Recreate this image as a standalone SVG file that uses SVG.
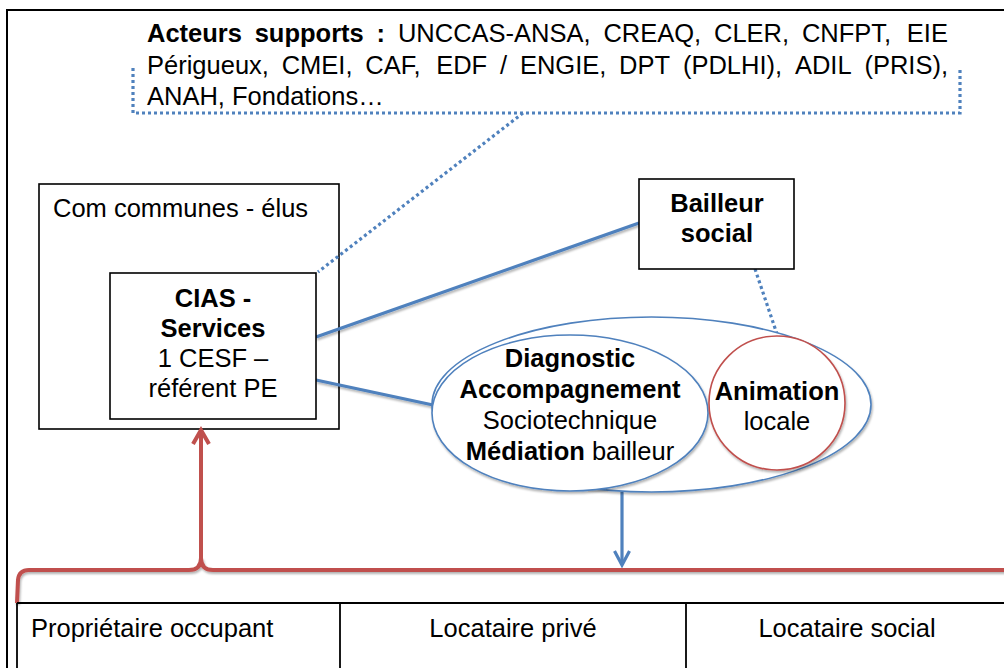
<svg xmlns="http://www.w3.org/2000/svg" width="1004" height="668" viewBox="0 0 1004 668">
<style>
  text { font-family: "Liberation Sans", Arial, sans-serif; font-size: 25.5px; fill: #000; }
  .b { font-weight: bold; }
  .mid { text-anchor: middle; }
  .box { fill: #fff; stroke: #000; stroke-width: 1.6; }
  .frame { fill: none; stroke: #000; stroke-width: 1.6; }
  .blue { fill: none; stroke: #4f81bd; stroke-width: 3.2; }
  .dot { fill: none; stroke: #4f81bd; stroke-width: 3.2; stroke-dasharray: 3 3; }
  .red { fill: none; stroke: #c0504d; stroke-width: 4; }
  .ell { fill: #fff; stroke: #4f81bd; stroke-width: 1.6; }
  .ellr { fill: #fff; stroke: #c0504d; stroke-width: 1.6; }
  .tbl { fill: none; stroke: #000; stroke-width: 1.8; }
</style>
<defs>
  <filter id="sh" x="-10%" y="-10%" width="130%" height="140%">
    <feDropShadow dx="1" dy="2" stdDeviation="1.2" flood-color="#000" flood-opacity="0.3"/>
  </filter>
  <marker id="arrR" markerUnits="userSpaceOnUse" markerWidth="24" markerHeight="24" refX="16" refY="12" orient="auto">
    <path d="M2,4 L16,12 L2,20" fill="none" stroke="#c0504d" stroke-width="4"/>
  </marker>
  <marker id="arrB" markerUnits="userSpaceOnUse" markerWidth="24" markerHeight="24" refX="16" refY="12" orient="auto">
    <path d="M2,4.5 L16,12 L2,19.5" fill="none" stroke="#4f81bd" stroke-width="3.2"/>
  </marker>
</defs>
<rect width="1004" height="668" fill="#fff"/>

<!-- outer frame -->
<rect x="7" y="10" width="1020" height="700" fill="none" stroke="#000" stroke-width="2"/>

<!-- com communes -->
<g id="comcom">
  <rect class="frame" x="39" y="184" width="300" height="245"/>
  <text x="53" y="217">Com communes - élus</text>
</g>

<!-- connectors -->
<g id="connectors">
  <polyline class="dot" points="133,68 133,113 960,113 960,67"/>
  <line class="dot" x1="523" y1="113" x2="318" y2="272"/>
  <line class="blue" x1="316" y1="337" x2="639" y2="223" filter="url(#sh)"/>
  <line class="blue" x1="316" y1="380" x2="433" y2="405" filter="url(#sh)"/>
  <line class="dot" x1="755" y1="269" x2="777" y2="334"/>
  <line class="blue" x1="622" y1="492" x2="622" y2="565" marker-end="url(#arrB)"/>
  <path class="red" d="M17,603 L18,580 Q19,570 29,570 L189,570 Q201,570 201,558 Q201,570 213,570 L1010,570" filter="url(#sh)"/>
  <line class="red" x1="201" y1="560" x2="201" y2="430" marker-end="url(#arrR)"/>
</g>

<!-- acteurs supports -->
<g id="acteurs">
  <text y="42"><tspan class="b" x="147">Acteurs</tspan><tspan class="b" x="254.7">supports</tspan><tspan class="b" x="376.6">:</tspan><tspan x="397.9">UNCCAS-ANSA,</tspan><tspan x="603.4">CREAQ,</tspan><tspan x="714">CLER,</tspan><tspan x="801.9">CNFPT,</tspan><tspan x="906.8">EIE</tspan></text>
  <text y="74"><tspan x="147">Périgueux,</tspan><tspan x="281.7">CMEI,</tspan><tspan x="365.3">CAF,</tspan><tspan x="436.2">EDF</tspan><tspan x="500">/</tspan><tspan x="519.9">ENGIE,</tspan><tspan x="619.1">DPT</tspan><tspan x="682.9">(PDLHI),</tspan><tspan x="794.9">ADIL</tspan><tspan x="864.4">(PRIS),</tspan></text>
  <text x="147" y="105">ANAH, Fondations…</text>
</g>

<!-- CIAS -->
<g id="cias">
  <rect class="box" x="110" y="273" width="206" height="146"/>
  <text class="b mid" x="213" y="307">CIAS -</text>
  <text class="b mid" x="213" y="337">Services</text>
  <text class="mid" x="213" y="367">1 CESF –</text>
  <text class="mid" x="213" y="397">référent PE</text>
</g>

<!-- Bailleur social -->
<g id="bailleur">
  <rect class="box" x="639" y="179" width="155" height="90"/>
  <text class="b mid" x="717" y="212">Bailleur</text>
  <text class="b mid" x="717" y="242">social</text>
</g>

<!-- ellipses -->
<g id="outer">
  <ellipse class="ell" cx="651.5" cy="404.5" rx="219.5" ry="87.5" filter="url(#sh)"/>
</g>
<g id="diagnostic">
  <ellipse class="ell" cx="570" cy="413" rx="138" ry="78" filter="url(#sh)"/>
  <text class="b mid" x="570" y="367">Diagnostic</text>
  <text class="b mid" x="570" y="398">Accompagnement</text>
  <text class="mid" x="570" y="429">Sociotechnique</text>
  <text class="mid" x="570" y="460"><tspan class="b">Médiation</tspan> bailleur</text>
</g>
<g id="animation">
  <ellipse class="ellr" cx="777" cy="403" rx="68" ry="67" filter="url(#sh)"/>
  <text class="b mid" x="777" y="400">Animation</text>
  <text class="mid" x="777" y="430">locale</text>
</g>

<!-- table -->
<g id="table">
  <line class="tbl" x1="17" y1="603" x2="1010" y2="603"/>
  <line class="tbl" x1="17" y1="603" x2="17" y2="680"/>
  <line class="tbl" x1="340" y1="603" x2="340" y2="680"/>
  <line class="tbl" x1="686" y1="603" x2="686" y2="680"/>
</g>
<g id="proprietaire"><text x="31" y="637">Propriétaire occupant</text></g>
<g id="locprive"><text class="mid" x="513" y="637">Locataire privé</text></g>
<g id="locsocial"><text class="mid" x="847" y="637">Locataire social</text></g>
</svg>
